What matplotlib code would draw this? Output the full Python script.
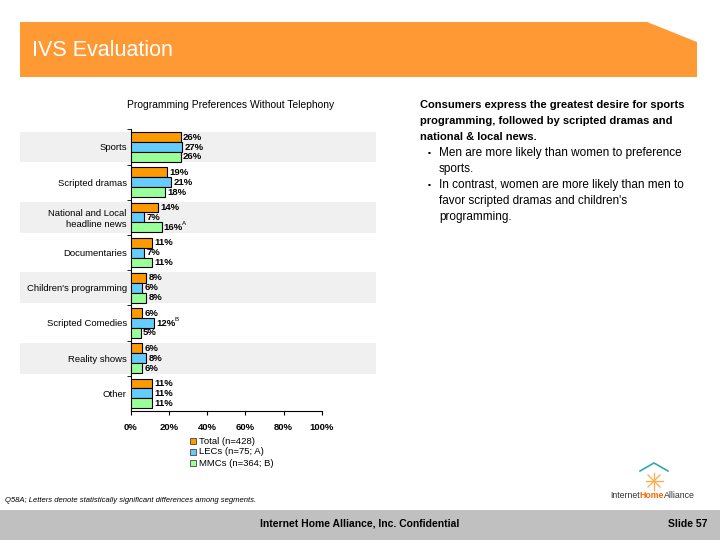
import matplotlib
matplotlib.use("Agg")
import matplotlib.pyplot as plt
from matplotlib.patches import Polygon, Rectangle
import numpy as np

plt.rcParams['font.family'] = ['Liberation Sans', 'DejaVu Sans']

categories = ["Sports", "Scripted dramas", "National and Local\nheadline news", "Documentaries",
              "Children's programming", "Scripted Comedies", "Reality shows", "Other"]
total = [26, 19, 14, 11, 8, 6, 6, 11]
lecs = [27, 21, 7, 7, 6, 12, 8, 11]
mmcs = [26, 18, 16, 11, 8, 5, 6, 11]
lecs_sig = ["", "", "", "", "", "B", "", ""]
mmcs_sig = ["", "", "A", "", "", "", "", ""]
series_names = ["Total (n=428)", "LECs (n=75; A)", "MMCs (n=364; B)"]
xticks = [0, 20, 40, 60, 80, 100]
colors = ["#FF9900", "#66CCFF", "#99FF99"]

W, H = 720, 540
fig = plt.figure(figsize=(7.2, 5.4), dpi=100)

bg = fig.add_axes([0, 0, 1, 1])
bg.set_xlim(0, W)
bg.set_ylim(H, 0)
bg.axis('off')

# header
bg.add_patch(Polygon([(20, 22), (647, 22), (697, 42), (697, 77), (20, 77)],
                     closed=True, facecolor="#FF9933", edgecolor='none'))
bg.text(32, 50, "IVS Evaluation", color='white', fontsize=15.5, va='center', ha='left')

# footer
bg.add_patch(Rectangle((0, 510), W, 30, facecolor="#C0C0C0", edgecolor='none'))
bg.text(360, 524, "Internet Home Alliance, Inc. Confidential", fontsize=7.5, fontweight='bold',
        ha='center', va='center')
bg.text(708, 524, "Slide 57", fontsize=7.5, fontweight='bold', ha='right', va='center')
bg.text(5, 501, "Q58A; Letters denote statistically significant differences among segments.",
        fontsize=5.5, style='italic', ha='left', va='center')

# logo
bg.plot([640, 654, 668], [471, 463, 471], color="#33AAAA", lw=1.2)
for ang in np.linspace(0, np.pi, 5)[:-1]:
    dx, dy = 8.5 * np.cos(ang), 8.5 * np.sin(ang)
    bg.plot([654 - dx, 654 + dx], [481 - dy, 481 + dy], color="#FFAA44", lw=0.9)
fig.canvas.draw()
renderer = fig.canvas.get_renderer()
xcur = 610
inv = bg.transData.inverted()
for part, col, wt in [("Internet", "#333333", "normal"), ("Home", "#FF6600", "bold"),
                      ("Alliance", "#333333", "normal")]:
    t = bg.text(xcur, 495, part, fontsize=6.3, ha='left', va='center', color=col, fontweight=wt)
    bb = t.get_window_extent(renderer)
    xcur = inv.transform((bb.x1, bb.y0))[0]

# right text
bold_lines = ["Consumers express the greatest desire for sports",
              "programming, followed by scripted dramas and",
              "national & local news."]
for i, t in enumerate(bold_lines):
    bg.text(420, 105 + 16 * i, t, fontsize=8, fontweight='bold', ha='left', va='center')
bullets = [["Men are more likely than women to preference", "sports."],
           ["In contrast, women are more likely than men to", "favor scripted dramas and children's",
            "programming."]]
y = 153
for b in bullets:
    bg.text(428, y, "\u25aa", fontsize=6, ha='left', va='center')
    for ln in b:
        bg.text(439, y, ln, fontsize=8.5, ha='left', va='center')
        y += 16

# chart title
bg.text(231, 105.5, "Programming Preferences Without Telephony", fontsize=7.4, ha='center', va='center')

# chart axes
L, R, T, B = 131, 321.7, 129.4, 411
ax = fig.add_axes([L / W, 1 - B / H, (R - L) / W, (B - T) / H])
ax.set_xlim(0, 100)
ax.set_ylim(7.5, -0.5)
ax.patch.set_alpha(0)
n = len(categories)
idx = np.arange(n)
bh = 0.28

for i in range(0, n, 2):
    y0 = T + (i + 0.5) * (B - T) / n - 0.44 * (B - T) / n
    bg.add_patch(Rectangle((20, y0), 356, 0.88 * (B - T) / n, facecolor="#F0F0F0",
                           edgecolor='none', zorder=0))

for k, (vals, sig) in enumerate([(total, [""] * n), (lecs, lecs_sig), (mmcs, mmcs_sig)]):
    pos = idx + (k - 1) * bh
    ax.barh(pos, vals, height=bh, color=colors[k], edgecolor='black', linewidth=0.8, zorder=3)
    for p, v, s in zip(pos, vals, sig):
        ax.text(v + 1.2, p, f"{v}%", fontsize=6.8, fontweight='bold', ha='left', va='center')
        if s:
            ax.annotate(s, (v + 1.2, p), xytext=(13, 2.5), textcoords='offset points',
                        fontsize=4.5, ha='left', va='center')

for s in ['top', 'right']:
    ax.spines[s].set_visible(False)
ax.spines['left'].set_linewidth(0.8)
ax.spines['bottom'].set_linewidth(0.8)
ax.set_xticks(xticks)
ax.set_xticklabels([f"{x}%" for x in xticks], fontsize=6.8, fontweight='bold')
ax.tick_params(axis='x', direction='out', length=3, pad=6)
ax.set_yticks(idx)
ax.set_yticklabels(categories, fontsize=6.8)
ax.tick_params(axis='y', length=0, pad=3)
ax.set_yticks(np.arange(n) - 0.5, minor=True)
ax.tick_params(axis='y', which='minor', length=3, direction='out')
for lab in ax.get_yticklabels():
    lab.set_multialignment('right')

# legend
for k, name in enumerate(series_names):
    yy = 441 + 11 * k
    bg.add_patch(Rectangle((190, yy - 3), 6, 6, facecolor=colors[k], edgecolor='#444444', lw=0.6))
    bg.text(199, yy, name, fontsize=6.8, ha='left', va='center')

fig.savefig("out.png", dpi=100)
